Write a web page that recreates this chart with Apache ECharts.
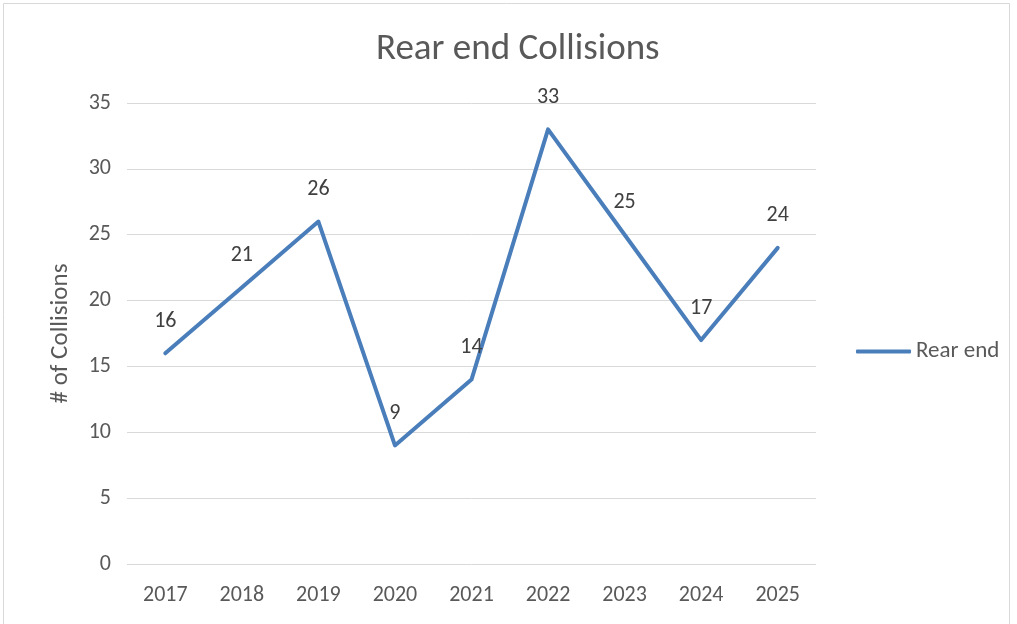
<!DOCTYPE html>
<html>
<head>
<meta charset="utf-8">
<script src="https://cdn.jsdelivr.net/npm/echarts@6/dist/echarts.min.js"></script>
<style>
  html, body { margin: 0; padding: 0; background: #fff; }
  #chart { width: 1017px; height: 624px; }
</style>
</head>
<body>
<div id="chart"></div>
<script>
// Yearly rear-end collision counts
const years = ['2017', '2018', '2019', '2020', '2021', '2022', '2023', '2024', '2025'];
const rearEnd = [16, 21, 26, 9, 14, 33, 25, 17, 24];
const seriesName = 'Rear end';

const FONT = 'Carlito, "Open Sans", sans-serif';
const TEXT = '#595959';
const LINE = '#4a7ebb';

const chart = echarts.init(document.getElementById('chart'), null, { renderer: 'canvas' });
chart.setOption({
  backgroundColor: '#fff',
  animation: false,
  textStyle: { fontFamily: FONT, color: TEXT },
  graphic: [{
    type: 'rect',
    shape: { x: 3.5, y: 3.5, width: 1006, height: 640 },
    style: { fill: 'none', stroke: '#d9d9d9', lineWidth: 1 },
    silent: true
  }],
  title: {
    text: 'Rear end Collisions',
    left: 371,
    top: 26,
    textStyle: { fontFamily: FONT, fontWeight: 'normal', fontSize: 37, color: TEXT }
  },
  legend: {
    orient: 'vertical',
    left: 851,
    top: 335,
    itemWidth: 55,
    itemHeight: 4,
    itemGap: 6,
    icon: 'roundRect',
    textStyle: { fontFamily: FONT, fontSize: 23, color: TEXT },
    data: [seriesName]
  },
  grid: { left: 127, right: 201, top: 103, bottom: 60, containLabel: false },
  xAxis: {
    type: 'category',
    data: years,
    boundaryGap: true,
    axisLine: { show: false },
    axisTick: { show: false },
    axisLabel: { fontFamily: FONT, fontSize: 22, color: TEXT, margin: 20 }
  },
  yAxis: {
    type: 'value',
    min: 0,
    max: 35,
    interval: 5,
    name: '# of Collisions',
    nameLocation: 'middle',
    nameGap: 54,
    nameTextStyle: { fontFamily: FONT, fontSize: 25, color: TEXT },
    axisLine: { show: false },
    axisTick: { show: false },
    axisLabel: { fontFamily: FONT, fontSize: 22, color: TEXT, margin: 16 },
    splitLine: { lineStyle: { color: '#d9d9d9', width: 1 } }
  },
  series: [{
    name: seriesName,
    type: 'line',
    data: rearEnd,
    symbol: 'circle',
    symbolSize: 2,
    showSymbol: true,
    lineStyle: { color: LINE, width: 4, join: 'round', cap: 'round' },
    itemStyle: { color: LINE },
    label: {
      show: true,
      position: 'top',
      distance: 20,
      fontFamily: FONT,
      fontSize: 22,
      color: '#404040'
    }
  }]
});
</script>
</body>
</html>
